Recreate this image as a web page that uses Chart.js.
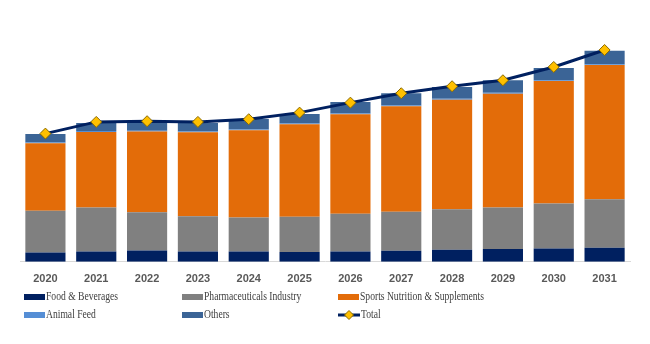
<!DOCTYPE html>
<html>
<head>
<meta charset="utf-8">
<script src="https://cdn.jsdelivr.net/npm/chart.js@4.4.1/dist/chart.umd.min.js"></script>
<style>
    body { margin: 0; background: #fff; }
    #wrap { position: relative; width: 650px; height: 344px; }
    #chart-box { position: absolute; left: 0; top: 0; width: 650px; height: 303px; }
    #legend { position: absolute; left: 0; top: 287px; width: 650px; height: 40px; }
    .item { position: absolute; display: flex; align-items: center; font-family: "Liberation Serif", "Times New Roman", serif; font-size: 12px; color: #404040; white-space: nowrap; }
    .item span { display: inline-block; transform: scaleX(0.8); transform-origin: left center; }
    .swatch { width: 21px; height: 6px; margin-right: 1px; }
</style>
</head>
<body>
<div id="wrap">
    <div id="chart-box"><canvas id="marketChart" width="650" height="303"></canvas></div>
    <div id="legend"></div>
</div>
<script>
// years on the x axis
const years = ['2020', '2021', '2022', '2023', '2024', '2025', '2026', '2027', '2028', '2029', '2030', '2031'];

// segment values (arbitrary units)
const foodBeverages = [9.3, 10.3, 11.3, 10.3, 10.3, 9.7, 10.3, 11, 12, 12.7, 13.3, 14];
const pharmaceuticals = [41.7, 44, 38.4, 35.4, 34, 35.3, 37.7, 39, 40.7, 41.6, 45, 48.7];
const sportsNutrition = [67.7, 75.7, 80.6, 84, 87.4, 92.7, 99.7, 105.7, 109.6, 114, 122.7, 134.3];
const animalFeed = [0.8, 0.8, 0.8, 0.8, 0.8, 0.8, 0.8, 0.8, 0.8, 0.8, 0.8, 0.8];
const others = [8.5, 8, 8.2, 8.5, 10.5, 9.5, 11.5, 12.2, 11.9, 12.6, 12.2, 13.5];
const totals = [128.3, 140, 140.7, 140, 142.7, 149.3, 159.3, 168.7, 175.7, 181.7, 195, 212];

const colors = {
    food: '#002060',
    pharma: '#808080',
    sports: '#E36C09',
    feed: '#558ED5',
    others: '#3B6496',
    total: '#002060',
    marker: '#FFC000'
};

function barSet(label, data, color) {
    return {
        type: 'bar',
        label: label,
        data: data,
        backgroundColor: color,
        stack: 'segments',
        order: 1,
        barPercentage: 0.79,
        categoryPercentage: 1.0
    };
}

const datasets = [
    barSet('Food & Beverages', foodBeverages, colors.food),
    barSet('Pharmaceuticals Industry', pharmaceuticals, colors.pharma),
    barSet('Sports Nutrition & Supplements', sportsNutrition, colors.sports),
    barSet('Animal Feed', animalFeed, colors.feed),
    barSet('Others', others, colors.others),
    {
        type: 'line',
        label: 'Total',
        data: totals,
        stack: 'total',
        order: 0,
        borderColor: colors.total,
        borderWidth: 3,
        tension: 0,
        pointStyle: 'rectRot',
        pointRadius: 5.5,
        pointBackgroundColor: colors.marker,
        pointBorderColor: '#8A6A00',
        pointBorderWidth: 1
    }
];

const ctx = document.getElementById('marketChart').getContext('2d');
const chart = new Chart(ctx, {
    data: { labels: years, datasets: datasets },
    options: {
        responsive: false,
        animation: false,
        layout: { padding: { left: 20, right: 20, top: 11, bottom: 6 } },
        plugins: { legend: { display: false }, tooltip: { enabled: false } },
        scales: {
            x: {
                stacked: true,
                grid: { display: false, drawTicks: false },
                border: { display: true, color: '#D9D9D9', width: 1 },
                ticks: {
                    padding: 11,
                    color: '#595959',
                    font: { family: 'Liberation Sans', size: 11, weight: 'bold' }
                }
            },
            y: {
                stacked: true,
                display: false,
                min: 0,
                max: 251
            }
        }
    }
});

// simple legend in three columns, two rows
const legendBox = document.getElementById('legend');
const columns = [24, 182, 338];
const rows = [2, 20];
datasets.forEach((ds, i) => {
    const item = document.createElement('div');
    item.className = 'item';
    item.style.left = columns[i % 3] + 'px';
    item.style.top = rows[Math.floor(i / 3)] + 'px';
    let swatch;
    if (ds.type === 'line') {
        swatch = document.createElement('canvas');
        swatch.width = 22;
        swatch.height = 12;
        swatch.style.marginRight = '1px';
        const c = swatch.getContext('2d');
        c.strokeStyle = colors.total;
        c.lineWidth = 3;
        c.beginPath(); c.moveTo(0, 6); c.lineTo(22, 6); c.stroke();
        c.fillStyle = colors.marker;
        c.strokeStyle = '#8A6A00';
        c.lineWidth = 1;
        c.beginPath(); c.moveTo(11, 1.5); c.lineTo(15.5, 6); c.lineTo(11, 10.5); c.lineTo(6.5, 6); c.closePath();
        c.fill(); c.stroke();
    } else {
        swatch = document.createElement('div');
        swatch.className = 'swatch';
        swatch.style.background = ds.backgroundColor;
    }
    const text = document.createElement('span');
    text.textContent = ds.label;
    item.appendChild(swatch);
    item.appendChild(text);
    legendBox.appendChild(item);
});
</script>
</body>
</html>
